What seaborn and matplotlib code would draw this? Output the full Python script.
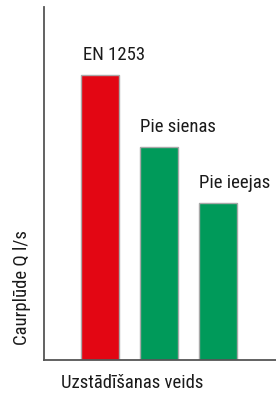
import matplotlib
matplotlib.use("Agg")
import matplotlib.pyplot as plt
import seaborn as sns

categories = ["EN 1253", "Pie sienas", "Pie ieejas"]
values = [80.7, 60.3, 44.5]
colors = ["#e30613", "#009a5a", "#009a5a"]
x_label = "Uzstādīšanas veids"
y_label = "Caurplūde Q l/s"

sns.set_theme(style="white")
plt.rcParams["font.family"] = ["Roboto Condensed", "Liberation Sans", "DejaVu Sans"]

fig = plt.figure(figsize=(2.76, 3.94), dpi=100)
ax = fig.add_axes([44 / 276, 34 / 394, 232 / 276, 353 / 394])

bw = 0.644
sns.barplot(x=categories, y=values, hue=categories, palette=colors, legend=False,
            width=bw, edgecolor="#a8a8a8", linewidth=1.0, saturation=1, ax=ax)

ax.set_xlim(-0.949, 2.983)
ax.set_ylim(0, 100)
ax.set_xticks([])
ax.set_yticks([])

fs = 13.5
for i, (c, v) in enumerate(zip(categories, values)):
    ax.annotate(c, xy=(i - bw / 2, v), xytext=(1.8 if i == 0 else 0, 10.8),
                textcoords="offset points", ha="left", va="baseline",
                fontsize=fs, color="#1a1a1a")

for s in ["top", "right"]:
    ax.spines[s].set_visible(False)
for s in ["left", "bottom"]:
    ax.spines[s].set_color("#555555")
    ax.spines[s].set_linewidth(1.3)

ax.set_xlabel(x_label, fontsize=fs, color="#1a1a1a", loc="left")
ax.xaxis.set_label_coords(17 / 232, -23 / 353)
ax.xaxis.label.set_va("center")
ax.set_ylabel(y_label, fontsize=fs, color="#1a1a1a", loc="bottom")
ax.yaxis.set_label_coords(-22 / 232, 15 / 353)
ax.yaxis.label.set_va("center")

fig.savefig("out.png", dpi=100)
